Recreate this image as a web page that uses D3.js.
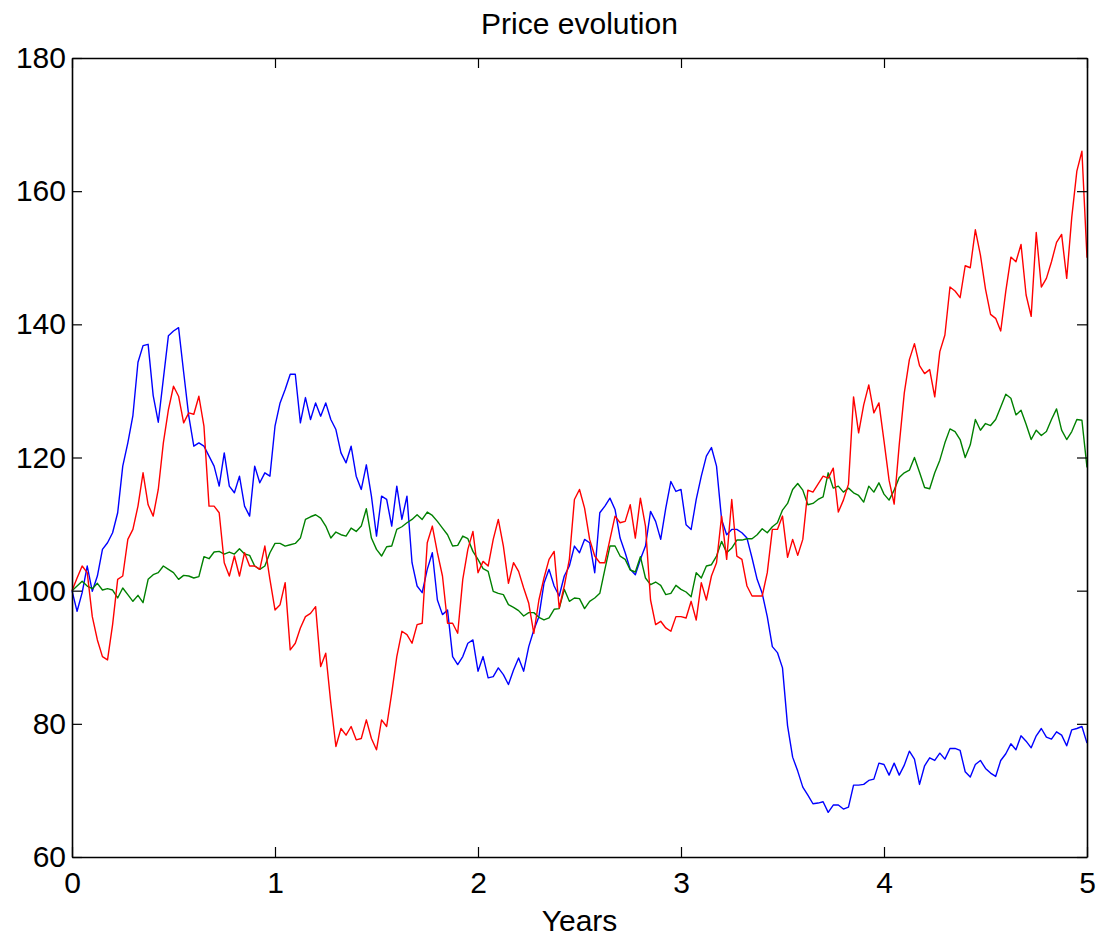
<!DOCTYPE html>
<html>
<head>
<meta charset="utf-8">
<script src="https://cdn.jsdelivr.net/npm/d3@7/dist/d3.min.js"></script>
<style>
  html, body { margin: 0; padding: 0; background: #fff; }
  svg { display: block; }
  text { font-family: "Liberation Sans", Arial, Helvetica, sans-serif; }
</style>
</head>
<body>
<svg id="chart" width="1102" height="940"></svg>
<script>
// ---- data, one value every 0.025 years ----
const stepYears = 0.025;
const seriesBlue = [100,96.9,99.7,103.7,99.9,102.2,106.2,107.2,108.7,111.7,118.7,122.2,126.3,134.3,136.8,137.0,129.3,125.3,131.8,138.3,139.0,139.5,132.8,126.3,121.7,122.2,121.7,120.2,118.7,115.7,120.7,115.7,114.7,117.2,112.7,111.2,118.7,116.2,117.7,117.2,124.7,128.2,130.2,132.5,132.5,125.2,129.0,125.7,128.2,126.2,128.2,125.7,124.2,120.7,119.2,121.7,117.2,115.2,118.9,114.2,108.2,114.2,113.7,109.7,115.7,110.7,114.2,104.2,100.7,99.7,103.2,105.7,98.6,96.4,97.1,90.1,88.9,90.1,92.1,92.6,87.9,90.1,86.9,87.1,88.4,87.4,85.9,88.1,89.9,87.9,91.6,94.1,96.1,101.1,103.2,100.7,99.2,102.2,103.7,106.7,105.7,107.7,107.2,102.7,111.7,112.7,113.9,112.2,107.9,105.7,103.2,102.4,104.7,106.7,111.9,110.4,107.7,112.4,116.4,114.9,115.2,109.9,109.2,113.7,117.2,120.2,121.5,118.7,110.7,108.4,109.2,109.2,108.7,107.9,104.9,101.7,99.6,96.1,91.6,90.7,88.4,79.7,75.0,72.9,70.5,69.3,68.0,68.1,68.3,66.7,67.8,67.8,67.2,67.5,70.8,70.8,70.9,71.5,71.7,74.1,73.9,72.3,74.1,72.3,73.8,75.9,74.7,70.9,73.7,74.9,74.5,75.6,74.7,76.3,76.3,76.0,72.8,72.0,73.9,74.5,73.3,72.6,72.1,74.5,75.5,77.0,76.1,78.2,77.4,76.4,78.2,79.3,78.0,77.7,78.8,78.3,76.7,79.1,79.3,79.6,77.1];
const seriesGreen = [100,100.7,101.4,100.7,100.3,101.1,100.1,100.3,100.1,98.9,100.4,99.4,98.4,99.3,98.2,101.7,102.4,102.7,103.7,103.2,102.7,101.7,102.3,102.2,101.9,102.1,105.1,104.8,105.8,105.9,105.5,105.8,105.5,106.3,105.5,105.3,103.7,103.2,103.7,105.7,107.1,107.1,106.7,106.9,107.1,107.9,110.7,111.1,111.4,110.9,109.7,107.9,108.8,108.4,108.2,109.4,108.9,109.7,112.3,107.9,106.2,105.2,106.6,106.7,109.2,109.6,110.2,110.7,111.4,110.7,111.8,111.3,110.4,109.4,108.4,106.7,106.8,108.2,107.8,105.9,104.7,103.3,102.9,99.9,99.6,99.4,97.9,97.5,97.0,96.2,96.7,96.7,96.0,95.6,95.9,97.2,97.3,100.2,98.4,98.9,98.8,97.3,98.4,98.9,99.6,103.2,106.7,106.7,105.2,104.7,103.1,102.8,105.1,101.9,100.9,101.3,100.8,99.4,99.6,100.8,100.2,99.8,99.1,102.7,101.9,103.7,103.9,105.2,107.4,105.7,106.4,107.6,107.6,107.8,107.8,108.4,109.3,108.7,109.6,110.2,112.1,113.1,115.2,116.1,115.1,112.9,113.1,113.7,114.1,117.7,115.4,115.7,114.8,115.4,114.7,114.3,113.3,115.7,114.8,116.2,114.5,113.6,115.1,117.0,117.7,118.1,120.0,117.8,115.5,115.3,117.7,119.6,122.2,124.3,123.9,122.7,120.0,121.9,125.7,124.1,125.1,124.8,125.7,127.6,129.5,128.9,126.4,127.1,125.0,122.7,124.1,123.3,123.9,125.7,127.3,124.1,122.7,123.9,125.7,125.6,118.5];
const seriesRed = [100,101.9,103.7,102.7,96.1,92.6,90.1,89.6,94.9,101.7,102.2,107.7,109.2,112.7,117.7,112.9,111.2,115.2,122.2,127.2,130.7,129.2,125.2,126.7,126.5,129.2,124.7,112.7,112.7,111.7,104.2,102.2,105.2,102.2,105.7,103.7,103.7,103.2,106.7,101.7,97.1,97.9,101.2,91.1,92.1,94.4,96.1,96.6,97.6,88.6,90.6,83.1,76.6,79.3,78.3,79.6,77.6,77.8,80.6,77.8,76.1,80.6,79.6,84.6,90.1,93.9,93.4,92.1,94.9,95.1,107.2,109.7,105.7,102.2,95.1,95.1,93.6,101.7,106.2,108.9,102.7,104.4,103.7,107.7,110.7,106.7,101.1,104.2,102.9,100.4,98.1,93.6,98.6,101.9,104.7,105.9,97.4,100.7,104.7,113.7,115.2,112.4,107.7,105.2,104.2,104.2,107.7,111.2,110.2,110.4,112.9,107.9,113.9,109.7,98.6,94.9,95.4,94.4,93.9,96.1,96.1,95.9,98.4,95.6,101.2,98.6,102.2,104.2,111.2,104.7,113.7,105.2,104.7,100.7,99.2,99.2,99.2,102.7,109.2,109.2,111.2,105.0,107.7,105.3,107.7,115.1,114.8,116.0,117.2,116.9,118.4,111.8,113.6,116.0,129.1,123.7,127.9,130.9,126.7,128.2,122.5,116.6,113.0,121.9,129.7,134.7,137.1,133.8,132.6,133.2,129.1,135.9,138.4,145.6,145.0,144.0,148.8,148.5,154.2,150.4,145.3,141.5,140.9,139.0,145.0,150.1,149.4,152.0,144.4,141.2,153.8,145.6,146.9,149.4,152.3,153.5,146.9,156.1,163.0,166.0,150.0];
const years = seriesBlue.map((_, i) => +(i * stepYears).toFixed(3));
const xTicks = [0, 1, 2, 3, 4, 5];
const yTicks = [60, 80, 100, 120, 140, 160, 180];
const series = [
  { name: "blue", values: seriesBlue, color: "#0000ff" },
  { name: "green", values: seriesGreen, color: "#008000" },
  { name: "red", values: seriesRed, color: "#ff0000" }
];
const titleText = "Price evolution";
const xLabelText = "Years";

// ---- layout ----
const W = 1102, H = 940;
const margin = { left: 72, right: 15, top: 58, bottom: 83 };
const innerW = W - margin.left - margin.right;
const innerH = H - margin.top - margin.bottom;
const fontSize = 30;

const svg = d3.select("#chart");
const g = svg.append("g").attr("transform", `translate(${margin.left},${margin.top})`);

const x = d3.scaleLinear().domain([0, 5]).range([0, innerW]);
const y = d3.scaleLinear().domain([60, 180]).range([innerH, 0]);

// lines
const line = d3.line().x((d, i) => x(years[i])).y(d => y(d));
g.append("g").selectAll("path").data(series).join("path")
  .attr("fill", "none")
  .attr("stroke", d => d.color)
  .attr("stroke-width", 1.4)
  .attr("stroke-linejoin", "round")
  .attr("d", d => line(d.values));

// axes with inward ticks
function styleAxis(sel) {
  sel.selectAll("path.domain").attr("stroke", "#000").attr("stroke-width", 1.6);
  sel.selectAll(".tick line").attr("stroke", "#000").attr("stroke-width", 1.2);
  sel.selectAll("text").attr("fill", "#000").style("font-size", fontSize + "px")
     .style("font-family", '"Liberation Sans", Arial, Helvetica, sans-serif');
}
const fmt = d3.format("d");
g.append("g").attr("transform", `translate(0,${innerH})`)
  .call(d3.axisBottom(x).tickValues(xTicks).tickFormat(fmt).tickSizeInner(-10).tickSizeOuter(0).tickPadding(15))
  .call(styleAxis);
g.append("g")
  .call(d3.axisLeft(y).tickValues(yTicks).tickFormat(fmt).tickSizeInner(-10).tickSizeOuter(0).tickPadding(6))
  .call(styleAxis);
g.append("g")
  .call(d3.axisTop(x).tickValues(xTicks).tickFormat("").tickSizeInner(-10).tickSizeOuter(0))
  .call(styleAxis);
g.append("g").attr("transform", `translate(${innerW},0)`)
  .call(d3.axisRight(y).tickValues(yTicks).tickFormat("").tickSizeInner(-10).tickSizeOuter(0))
  .call(styleAxis);

// title and axis label
svg.append("text").attr("x", margin.left + innerW / 2).attr("y", 34)
  .attr("text-anchor", "middle").style("font-size", fontSize + "px").text(titleText);
svg.append("text").attr("x", margin.left + innerW / 2).attr("y", 931)
  .attr("text-anchor", "middle").style("font-size", fontSize + "px").text(xLabelText);
</script>
</body>
</html>
